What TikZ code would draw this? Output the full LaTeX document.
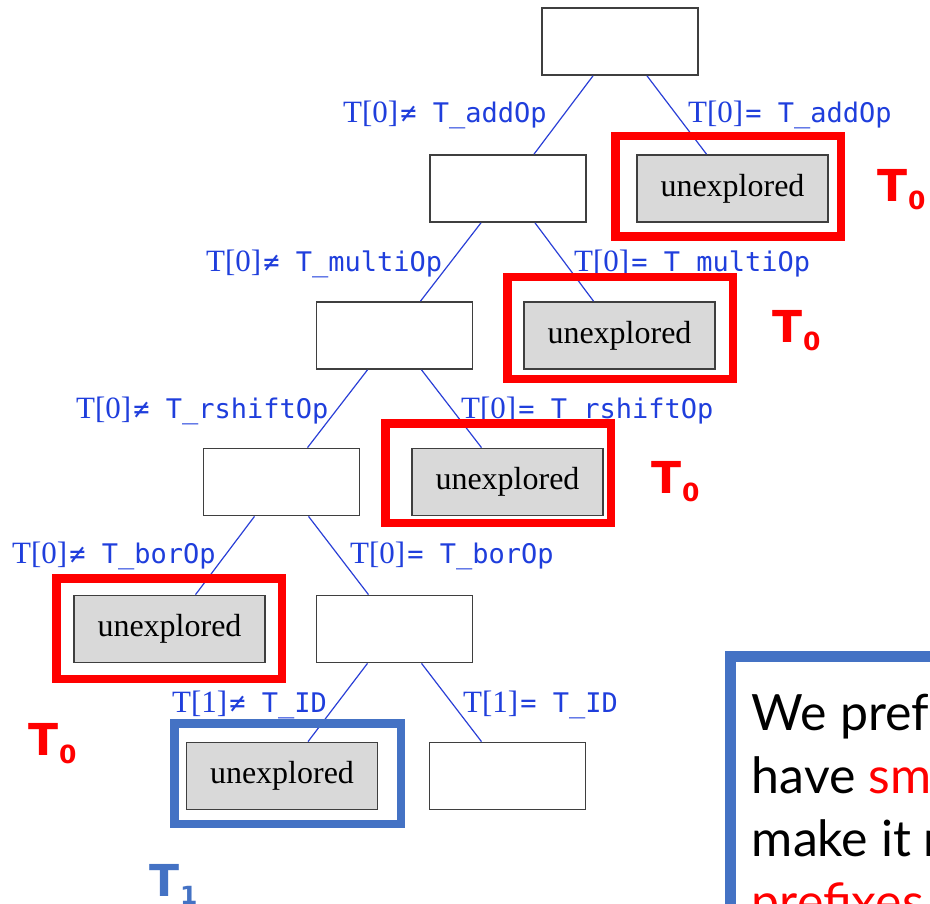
\documentclass[tikz,border=0pt]{standalone}
\usepackage{fontspec}
\usepackage{xcolor}
\usepackage{tikz}
\usetikzlibrary{calc}
\newfontfamily\monofont{DejaVu Sans Mono}
\newfontfamily\condfont{Liberation Serif}
\newfontfamily\notefont{Lato}
\newfontfamily\tagfont{DejaVu Sans}
\definecolor{edgeblue}{HTML}{2A3FD6}
\definecolor{lblblue}{HTML}{1F3EDC}
\definecolor{framered}{HTML}{FF0000}
\definecolor{frameblue}{HTML}{4472C4}
\definecolor{boxgray}{HTML}{D9D9D9}
\definecolor{boxline}{HTML}{3F3F3F}
\tikzset{
  state/.style={draw=boxline, fill=white, line width=1.7pt, inner sep=0pt,
    minimum width=156pt, minimum height=67pt},
  unexp/.style={state, fill=boxgray, minimum width=191pt,
    font=\condfont\fontsize{32}{32}\selectfont},
  branch/.style={draw=edgeblue, line width=1.2pt},
  lbl/.style={text=lblblue, anchor=base west, inner sep=0pt},
  redframe/.style={draw=framered, line width=8.5pt},
  blueframe/.style={draw=frameblue, line width=8.5pt},
  tlab/.style={font=\tagfont\bfseries\fontsize{44}{44}\selectfont,
    anchor=base west, inner sep=0pt},
  note/.style={font=\notefont\fontsize{50}{50}\selectfont,
    anchor=base west, inner sep=0pt}
}
\newcommand{\cond}[2]{{\condfont\fontsize{31}{31}\selectfont #1}\hspace{2pt}{\monofont\fontsize{27}{27}\selectfont #2}}
\newcommand{\tsub}[1]{T\hspace{1pt}\raisebox{-8pt}{\fontsize{25}{25}\selectfont #1}}

\begin{document}
\begin{tikzpicture}[x=1pt, y=-1pt]

  % page size and cut
  \useasboundingbox (0,0) rectangle (930,904);
  \clip (0,0) rectangle (930,904);

  % search tree
  \node[state] (root) at (620,41.5) {};
  \node[state] (a1) at (508,188.5) {};
  \node[unexp] (u1) at (732.5,188.5) {unexplored};
  \node[state] (a2) at (394.5,335.5) {};
  \node[unexp] (u2) at (619.5,335.5) {unexplored};
  \node[state] (a3) at (281.5,482) {};
  \node[unexp] (u3) at (507.5,482) {unexplored};
  \node[unexp] (u4) at (169.5,629) {unexplored};
  \node[state] (a4) at (394.5,629) {};
  \node[unexp] (u5) at (282,776) {unexplored};
  \node[state] (a5) at (507.5,776) {};

  % branches
  \foreach \p/\c/\a/\b in {root/a1/-27/26, root/u1/27/-26, a1/a2/-27/26,
      a1/u2/27/-26, a2/a3/-27/26, a2/u3/27/-26, a3/u4/-27/26,
      a3/a4/27/-26, a4/u5/-27/26, a4/a5/27/-26}{
    \draw[branch] ($(\p.south)+(\a,0)$) -- ($(\c.north)+(\b,0)$);
  }

  % branch conditions
  \foreach \n/\x/\y/\i/\rel/\op in {l1L/343/123/0/≠/addOp, l1R/688/123/0/=/addOp,
      l2L/206/272/0/≠/multiOp, l2R/574/272/0/=/multiOp,
      l3L/76/418/0/≠/rshiftOp, l3R/461/418/0/=/rshiftOp,
      l4L/12/563/0/≠/borOp, l4R/350/563/0/=/borOp,
      l5L/172/712/1/≠/ID, l5R/463/712/1/=/ID}{
    \node[lbl] (\n) at (\x,\y) {\cond{T[\i]}{\rel\ T\_\op}};
  }

  % highlight frames
  \foreach \l/\t/\r/\b in {615.25/136.25/840.75/236.75, 507.25/277.25/732.75/378.75,
      385.25/423.25/610.75/522.75, 56.25/578.25/281.75/678.75}{
    \draw[redframe] (\l,\t) rectangle (\r,\b);
  }
  \draw[blueframe] (174.25,723.25) rectangle (400.75,823.75);

  % frame tags
  \node[tlab, text=framered] (t0a) at (877,202) {\tsub{0}};
  \node[tlab, text=framered] (t0b) at (772,343) {\tsub{0}};
  \node[tlab, text=framered] (t0c) at (651,493) {\tsub{0}};
  \node[tlab, text=framered] (t0d) at (28,755) {\tsub{0}};
  \node[tlab, text=frameblue] (t1) at (149,896) {\tsub{1}};

  % remark box, cut by the page
  \draw[blueframe, line width=10.5pt] (730.25,656.25) rectangle (1000,1000);
  \node[note] (msg1) at (751.7,730) {We prefer to};
  \node[note] (msg2) at (751.7,793) {have {\color{framered}smaller}};
  \node[note] (msg3) at (751.7,856) {make it more};
  \node[note, text=framered] (msg4) at (751.7,919) {prefixes};
\end{tikzpicture}
\end{document}
